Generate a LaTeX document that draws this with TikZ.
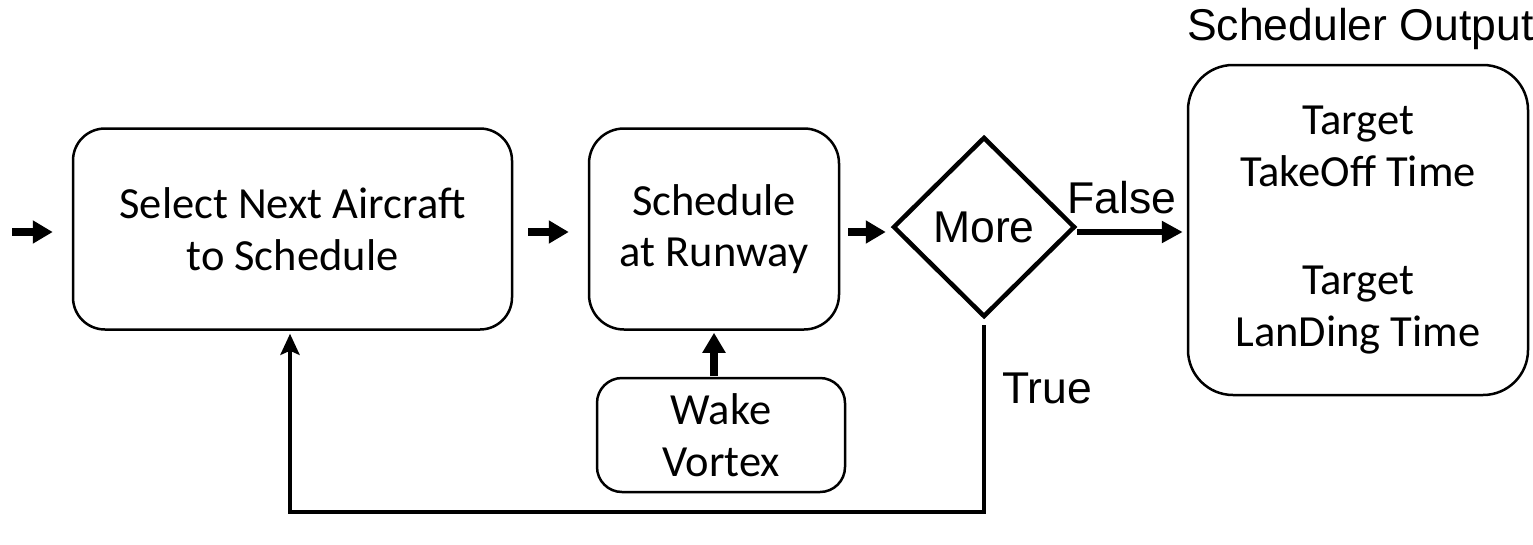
\documentclass[tikz,border=0pt]{standalone}
\usepackage{fontspec}
\usetikzlibrary{shapes.geometric,arrows.meta}
\newfontfamily\calib{Carlito}
\newfontfamily\arialf{Liberation Sans}
\tikzset{
  box/.style={draw, line width=2.5pt, rounded corners=#1, align=center, inner sep=0pt,
    font=\calib\fontsize{44.5}{51.5}\selectfont},
  box/.default=32pt,
  decision/.style={draw, diamond, line width=4.5pt, inner sep=0pt, aspect=1,
    minimum width=182pt, minimum height=180pt, font=\arialf\fontsize{44.5}{50}\selectfont},
  flow/.style={line width=7.5pt, -{Triangle[length=20pt,width=22pt]}},
  falseflow/.style={line width=6.5pt, -{Triangle[length=21pt,width=21pt]}},
  loopflow/.style={line width=4.5pt, -{Stealth[length=21pt,width=19pt,inset=4pt]}},
  lbl/.style={anchor=base west, inner sep=0pt, font=\arialf\fontsize{44.5}{50}\selectfont},
}
\begin{document}
\begin{tikzpicture}[x=1pt,y=-1pt]
  \useasboundingbox (0,0) rectangle (1533,544);

  % process blocks
  \node[box, minimum width=439pt, minimum height=201pt] (sel) at (292.5,229)
    {Select Next Aircraft\\to Schedule};
  \node[box=35pt, minimum width=250pt, minimum height=201pt] (sched) at (714,229)
    {Schedule\\at Runway};
  \node[box=25pt, minimum width=248pt, minimum height=114pt] (wake) at (721,435)
    {Wake\\Vortex};
  \node[decision] (more) at (984,227) {More};
  \node[box=45pt, minimum width=340pt, minimum height=330pt] (out) at (1358,230)
    {Target\\TakeOff Time\\[57pt]Target\\LanDing Time};

  % labels
  \node[lbl] (outlbl) at (1187,40) {Scheduler Output};
  \node[lbl] (falselbl) at (1067,213) {False};
  \node[lbl] (truelbl) at (1002,403) {True};

  % connectors
  \coordinate (start) at (12,232);
  \coordinate (wakein) at (714,378);
  \coordinate (loopbl) at (290,512);
  \draw[flow, shorten >=19pt] (start) -- (sel.west |- start);
  \draw[flow, shorten <=15pt, shorten >=19pt] (sel.east |- start) -- (sched.west |- start);
  \draw[flow, shorten <=8pt, shorten >=5pt] (sched.east |- start) -- (more.west |- start);
  \draw[falseflow, shorten >=4pt] (more.east |- start) -- (out.west |- start);
  \draw[flow, shorten <=2pt, shorten >=2pt] (wakein) -- (wakein |- sched.south);
  \draw[loopflow, shorten >=3pt] ([yshift=-6pt]more.south) |- (loopbl) -- (loopbl |- sel.south);
\end{tikzpicture}
\end{document}
